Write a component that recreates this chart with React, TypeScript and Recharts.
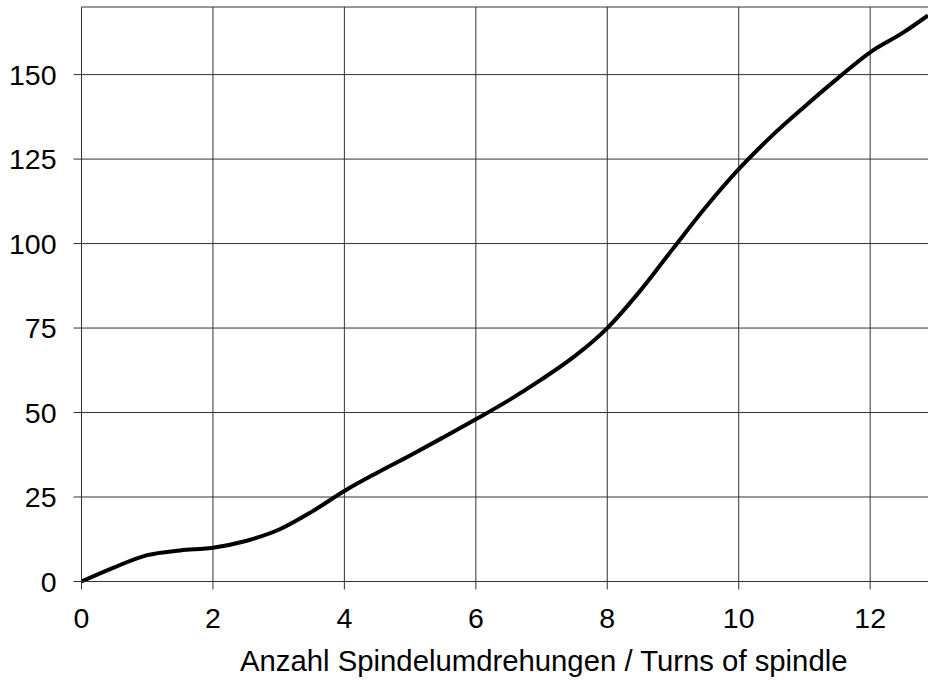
import React from 'react';
import { LineChart, Line, XAxis, YAxis, CartesianGrid } from 'recharts';

// turns of spindle vs. value
const turns = [0, 0.5, 1, 1.5, 2, 2.5, 3, 3.5, 4, 4.5, 5, 5.5, 6, 6.5, 7, 7.5, 8, 8.5, 9, 9.5, 10, 10.5, 11, 11.5, 12, 12.5, 12.88];
const values = [0, 4.2, 7.8, 9.2, 10, 12, 15.3, 20.6, 26.8, 32.2, 37.3, 42.6, 48, 53.6, 59.8, 66.6, 75, 86, 98.5, 110.8, 122, 131.8, 140.5, 148.8, 156.6, 162.4, 167.5];

const xTicks = [0, 2, 4, 6, 8, 10, 12];
const yTicks = [0, 25, 50, 75, 100, 125, 150];
const xLabel = 'Anzahl Spindelumdrehungen / Turns of spindle';

const data = turns.map((t, i) => ({ t, v: values[i] }));

const font = '"Liberation Sans", Arial, sans-serif';
const gridColor = '#333';

const App = () => (
  <div style={{ position: 'absolute', left: 0, top: 0, background: '#fff' }}>
    <LineChart width={928} height={680} data={data} margin={{ top: 7, right: 0, left: 0, bottom: 0 }}>
      <CartesianGrid
        stroke={gridColor}
        horizontalValues={[...yTicks, 170]}
        verticalValues={xTicks}
      />
      <XAxis
        type="number"
        dataKey="t"
        domain={[0, 12.88]}
        ticks={xTicks}
        allowDataOverflow
        height={98.5}
        tickSize={8}
        tickMargin={18}
        stroke={gridColor}
        tick={{ fill: '#000', fontSize: 28.5, fontFamily: font }}
        label={{ value: xLabel, position: 'bottom', offset: -30, dx: 39, fill: '#000', fontSize: 29.3, fontFamily: font }}
      />
      <YAxis
        type="number"
        domain={[0, 170]}
        ticks={yTicks}
        width={81.5}
        tickSize={8}
        tickMargin={17}
        stroke={gridColor}
        tick={{ fill: '#000', fontSize: 28.5, fontFamily: font }}
      />
      <Line
        type="monotone"
        dataKey="v"
        stroke="#000"
        strokeWidth={4}
        dot={false}
        isAnimationActive={false}
      />
    </LineChart>
  </div>
);

export default App;
